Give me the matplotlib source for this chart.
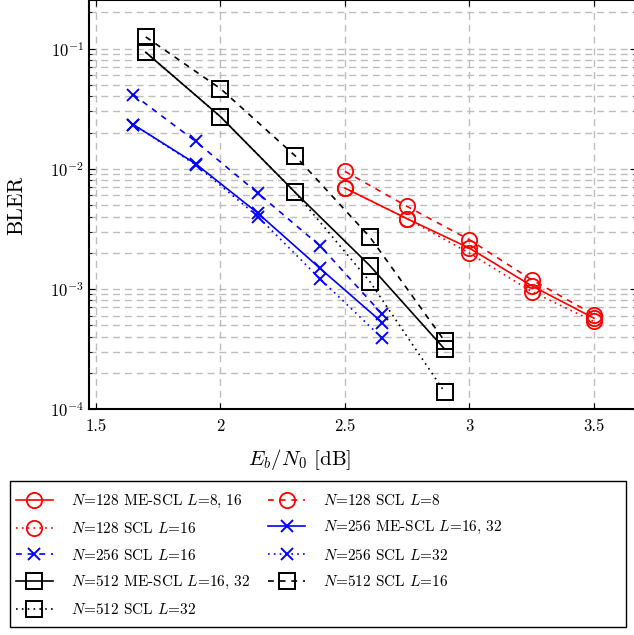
import numpy as np
import matplotlib
matplotlib.use("Agg")
import matplotlib.pyplot as plt
from matplotlib.patches import Rectangle
from matplotlib.ticker import LogLocator, NullFormatter

plt.rcParams['font.family'] = 'cmr10'
plt.rcParams['mathtext.fontset'] = 'cm'
plt.rcParams['axes.formatter.use_mathtext'] = True

# ---- data ----
x128 = [2.5, 2.75, 3.0, 3.25, 3.5]
me128 = [0.0069, 0.00383, 0.00218, 0.00106, 0.00057]
scl8_128 = [0.0095, 0.00485, 0.00256, 0.00119, 0.00061]
scl16_128 = [0.0069, 0.00383, 0.00198, 0.00095, 0.000535]

x256 = [1.65, 1.9, 2.15, 2.4, 2.65]
me256 = [0.0233, 0.0110, 0.00427, 0.00148, 0.000524]
scl16_256 = [0.0414, 0.0169, 0.00627, 0.00228, 0.000615]
scl32_256 = [0.0233, 0.0108, 0.0040, 0.00121, 0.000388]

x512 = [1.7, 2.0, 2.3, 2.6, 2.9]
me512 = [0.093, 0.0271, 0.00635, 0.00156, 0.000316]
scl16_512 = [0.125, 0.0464, 0.0128, 0.0027, 0.000369]
scl32_512 = [0.093, 0.0271, 0.00635, 0.00115, 0.000139]

xticks = [1.5, 2, 2.5, 3, 3.5]
xticklabels = ['1.5', '2', '2.5', '3', '3.5']

labels = [
    r"$N$=128 ME-SCL $L$=8, 16",
    r"$N$=128 SCL $L$=8",
    r"$N$=128 SCL $L$=16",
    r"$N$=256 ME-SCL $L$=16, 32",
    r"$N$=256 SCL $L$=16",
    r"$N$=256 SCL $L$=32",
    r"$N$=512 ME-SCL $L$=16, 32",
    r"$N$=512 SCL $L$=16",
    r"$N$=512 SCL $L$=32",
]

fig = plt.figure(figsize=(6.34, 6.35), dpi=100)
ax = fig.add_axes([89/634, 1-409/635, (636-89)/634, 409.5/635])

solid = '-'
dashed = (0, (3.5, 3.5))
dotted = (0, (1, 2.5))
lw = 1.2

circ = dict(marker='o', ms=11, mfc='none', mew=1.3)
cross = dict(marker='x', ms=8.5, mew=1.4)
sq = dict(marker='s', ms=11.5, mfc='none', mew=1.4)

h = []
h += ax.plot(x128, me128, color='red', ls=solid, lw=lw, **circ)
h += ax.plot(x128, scl8_128, color='red', ls=dashed, lw=lw, **circ)
h += ax.plot(x128, scl16_128, color='red', ls=dotted, lw=lw, **circ)
h += ax.plot(x256, me256, color='blue', ls=solid, lw=lw, **cross)
h += ax.plot(x256, scl16_256, color='blue', ls=dashed, lw=lw, **cross)
h += ax.plot(x256, scl32_256, color='blue', ls=dotted, lw=lw, **cross)
h += ax.plot(x512, me512, color='black', ls=solid, lw=lw, **sq)
h += ax.plot(x512, scl16_512, color='black', ls=dashed, lw=lw, **sq)
h += ax.plot(x512, scl32_512, color='black', ls=dotted, lw=lw, **sq)

ax.set_yscale('log')
ax.set_xlim(1.472, 3.669)
ax.set_ylim(1e-4, 0.256)
ax.set_xticks(xticks)
ax.set_xticklabels(xticklabels)
ax.yaxis.set_major_locator(LogLocator(base=10, numticks=10))
ax.yaxis.set_minor_locator(LogLocator(base=10, subs=np.arange(2, 10), numticks=20))
ax.yaxis.set_minor_formatter(NullFormatter())

gridkw = dict(color='#bdbdbd', ls=(0, (5, 3.5)), lw=1.0)
ax.grid(True, which='major', axis='both', **gridkw)
ax.grid(True, which='minor', axis='y', **gridkw)
ax.set_axisbelow(True)

ax.tick_params(which='both', direction='in', top=True, right=True, labelsize=12)
ax.tick_params(axis='x', which='major', pad=7)
ax.tick_params(which='major', length=4, width=0.8)
ax.tick_params(which='minor', length=2.5, width=0.6)
for s in ax.spines.values():
    s.set_linewidth(1.5)

ax.set_xlabel(r"$E_b/N_0$ [dB]", fontsize=15)
ax.xaxis.set_label_coords((300-89)/547, (409-460)/409.5)
ax.xaxis.label.set_va('center')
ax.set_ylabel("BLER", fontsize=15.5)
ax.yaxis.set_label_coords((16-89)/547, (409-205)/409.5)
ax.yaxis.label.set_va('center')

# legend laid out row-wise in 2 columns
order = [0, 2, 4, 6, 8, 1, 3, 5, 7]
leg = fig.legend([h[i] for i in order], [labels[i] for i in order],
                 ncol=2, loc='upper left',
                 bbox_to_anchor=(16/634, 1-493/635),
                 frameon=False, fontsize=11, borderpad=0, borderaxespad=0,
                 handlelength=2.4, handletextpad=1.2, columnspacing=1.2,
                 labelspacing=0.74, numpoints=1)
fig.patches.append(Rectangle((10/634, 8/635), 616/634, 146/635,
                             transform=fig.transFigure, fill=False,
                             edgecolor='black', lw=1.0, zorder=0))

fig.savefig("out.png", dpi=100)
